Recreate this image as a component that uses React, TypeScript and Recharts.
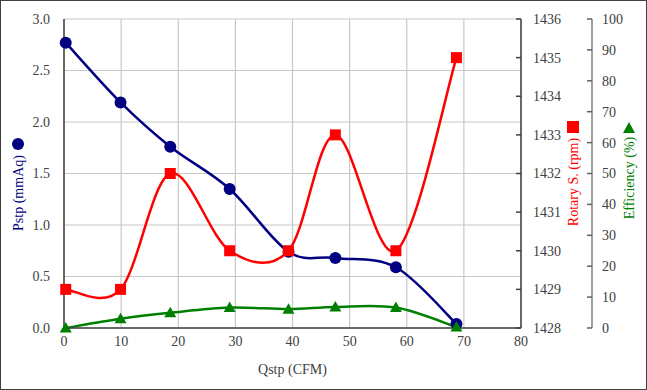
import { LineChart, Line, XAxis, YAxis, CartesianGrid } from "recharts";

// 量測資料 (Qstp 為橫軸)
const qstp = [0.3, 9.9, 18.6, 29.0, 39.3, 47.5, 58.1, 68.7];
const pstp = [2.77, 2.19, 1.76, 1.35, 0.74, 0.68, 0.59, 0.04];
const rotary = [1429, 1429, 1432, 1430, 1430, 1433, 1430, 1435];
const efficiency = [0, 3, 4.9, 6.6, 6.1, 6.8, 6.6, 0.3];

const xTicks = [0, 10, 20, 30, 40, 50, 60, 70, 80];
const pTicks = [0, 0.5, 1, 1.5, 2, 2.5, 3];
const rTicks = [1428, 1429, 1430, 1431, 1432, 1433, 1434, 1435, 1436];
const eTicks = [0, 10, 20, 30, 40, 50, 60, 70, 80, 90, 100];

const NAVY = "#000080";
const RED = "#FF0000";
const GREEN = "#008000";
const FONT = "'Liberation Serif', 'Times New Roman', serif";
const TICK_STYLE = { fill: "#404040", fontSize: 14 };

const data = qstp.map((q, i) => ({ q, p: pstp[i], r: rotary[i], e: efficiency[i] }));

// Excel 風格平滑曲線 (Catmull-Rom -> Bezier)
const smoothCurve = (context: any) => {
  let pts: number[][] = [];
  return {
    areaStart() {},
    areaEnd() {},
    lineStart() { pts = []; },
    point(x: number, y: number) { pts.push([+x, +y]); },
    lineEnd() {
      if (!pts.length) return;
      context.moveTo(pts[0][0], pts[0][1]);
      for (let i = 0; i < pts.length - 1; i++) {
        const p0 = pts[Math.max(0, i - 1)];
        const p1 = pts[i];
        const p2 = pts[i + 1];
        const p3 = pts[Math.min(pts.length - 1, i + 2)];
        context.bezierCurveTo(
          p1[0] + (p2[0] - p0[0]) / 6, p1[1] + (p2[1] - p0[1]) / 6,
          p2[0] - (p3[0] - p1[0]) / 6, p2[1] - (p3[1] - p1[1]) / 6,
          p2[0], p2[1]
        );
      }
    },
  };
};

const CircleDot = (props: any) => (
  <circle key={`c-${props.index}`} cx={props.cx} cy={props.cy} r={6} fill={NAVY} />
);
const SquareDot = (props: any) => (
  <rect key={`s-${props.index}`} x={props.cx - 5.5} y={props.cy - 5.5} width={11} height={11} fill={RED} />
);
const TriDot = (props: any) => {
  const { cx, cy } = props;
  return (
    <polygon key={`t-${props.index}`} points={`${cx},${cy - 6} ${cx + 6},${cy + 4.5} ${cx - 6},${cy + 4.5}`} fill={GREEN} />
  );
};

const PLabel = ({ viewBox }: any) => {
  const x = viewBox.x + 18;
  return (
    <g>
      <circle cx={x} cy={144} r={6} fill={NAVY} />
      <text x={x} y={193} transform={`rotate(-90, ${x}, 193)`} textAnchor="middle" dominantBaseline="central"
        fill={NAVY} fontSize={14}>Pstp (mmAq)</text>
    </g>
  );
};

const RLabel = ({ viewBox }: any) => {
  const x = viewBox.x + 52;
  return (
    <g>
      <rect x={x - 6} y={121} width={12} height={12} fill={RED} />
      <text x={x} y={182} transform={`rotate(-90, ${x}, 182)`} textAnchor="middle" dominantBaseline="central"
        fill={RED} fontSize={14}>Rotary S. (rpm)</text>
    </g>
  );
};

const ELabel = ({ viewBox }: any) => {
  const x = viewBox.x + 37;
  return (
    <g>
      <polygon points={`${x},122 ${x + 6},133 ${x - 6},133`} fill={GREEN} />
      <text x={x} y={178} transform={`rotate(-90, ${x}, 178)`} textAnchor="middle" dominantBaseline="central"
        fill={GREEN} fontSize={14}>Efficiency (%)</text>
    </g>
  );
};

const XLabel = ({ viewBox }: any) => (
  <text x={viewBox.x + viewBox.width / 2} y={viewBox.y + 41} textAnchor="middle" dominantBaseline="central"
    fill="#404040" fontSize={14}>Qstp (CFM)</text>
);

export default function App() {
  return (
    <div className="fan-chart" style={{ position: "absolute", left: 0, top: 0, width: 647, height: 390, background: "#fff" }}>
      <style>{`.fan-chart text { font-family: ${FONT} !important; }`}</style>
      <LineChart width={647} height={390} data={data} margin={{ top: 19, right: 5, bottom: 12, left: 0 }}>
        <CartesianGrid stroke="#C8C8C8" strokeWidth={1.2} yAxisId="left" />
        <XAxis
          dataKey="q" type="number" domain={[0, 80]} ticks={xTicks}
          tick={TICK_STYLE} tickLine={false} tickSize={0} tickMargin={8}
          axisLine={{ stroke: "#404040", strokeWidth: 1.5 }} height={50}
          label={<XLabel />}
        />
        <YAxis
          yAxisId="left" domain={[0, 3]} ticks={pTicks} width={64}
          tick={TICK_STYLE} tickFormatter={(v: number) => v.toFixed(1)}
          tickLine={false} tickSize={0} tickMargin={14}
          axisLine={{ stroke: "#404040", strokeWidth: 1.5 }}
          label={<PLabel />}
        />
        <YAxis
          yAxisId="right1" orientation="right" domain={[1428, 1436]} ticks={rTicks} width={71}
          tick={TICK_STYLE} tickSize={-5} tickMargin={17}
          tickLine={{ stroke: "#404040", strokeWidth: 1.5 }}
          axisLine={{ stroke: "#404040", strokeWidth: 1.5 }}
          label={<RLabel />}
        />
        <YAxis
          yAxisId="right2" orientation="right" domain={[0, 100]} ticks={eTicks} width={50}
          tick={TICK_STYLE} tickSize={-5} tickMargin={15}
          tickLine={{ stroke: "#606060", strokeWidth: 1.5 }}
          axisLine={{ stroke: "#808080", strokeWidth: 1.5 }}
          label={<ELabel />}
        />
        <Line yAxisId="left" dataKey="p" type={smoothCurve as any} stroke={NAVY} strokeWidth={2.5}
          dot={CircleDot} activeDot={false} isAnimationActive={false} />
        <Line yAxisId="right1" dataKey="r" type={smoothCurve as any} stroke={RED} strokeWidth={2.5}
          dot={SquareDot} activeDot={false} isAnimationActive={false} />
        <Line yAxisId="right2" dataKey="e" type={smoothCurve as any} stroke={GREEN} strokeWidth={2.5}
          dot={TriDot} activeDot={false} isAnimationActive={false} />
      </LineChart>
      <div style={{ position: "absolute", inset: 0, border: "1.5px solid #404040", pointerEvents: "none" }} />
    </div>
  );
}
